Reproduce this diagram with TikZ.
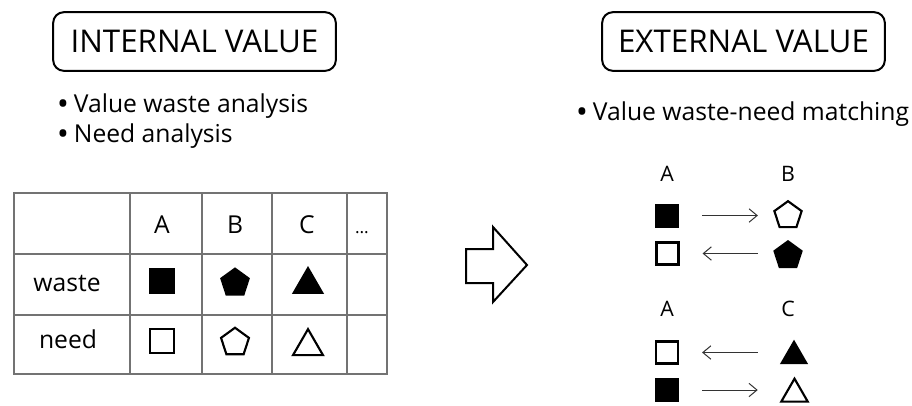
\documentclass[tikz,border=0pt]{standalone}
\usepackage{fontspec}
\setmainfont{Open Sans}
\usetikzlibrary{shapes.geometric,arrows.meta}
\tikzset{>={Straight Barb[length=6pt,width=10pt]}}
\colorlet{tcol}{black!55}
\newcommand\blt{\textbf{\textbullet}}
\tikzstyle{titlebox}=[draw,line width=1.5pt,rounded corners=8pt,minimum width=212pt,minimum height=44pt,inner sep=0pt,font=\fontsize{23.5}{27}\selectfont]
\tikzstyle{btext}=[inner sep=0pt,anchor=base west,font=\fontsize{18.5}{22}\selectfont]
\tikzstyle{ctext}=[inner sep=0pt,anchor=base,font=\fontsize{18.5}{22}\selectfont]
\tikzstyle{rtext}=[inner sep=0pt,anchor=base,font=\fontsize{16}{19}\selectfont]
\tikzstyle{tline}=[tcol,line width=0.8pt]
\tikzstyle{match}=[->,black!80,line width=0.75pt]
\tikzset{
  sqfill/.style={rectangle,fill=black,inner sep=0pt,minimum size=#1},
  sqopen/.style={rectangle,draw=black,line width=1.6pt,inner sep=0pt,minimum size=#1},
  pentfill/.style={regular polygon,regular polygon sides=5,fill=black,inner sep=0pt,minimum size=#1},
  pentopen/.style={regular polygon,regular polygon sides=5,draw=black,line width=1.6pt,inner sep=0pt,minimum size=#1},
  trifill/.style={regular polygon,regular polygon sides=3,fill=black,inner sep=0pt,minimum size=#1},
  triopen/.style={regular polygon,regular polygon sides=3,draw=black,line width=1.6pt,inner sep=0pt,minimum size=#1},
}

\begin{document}
\begin{tikzpicture}[x=0.75pt,y=-0.75pt]
  \useasboundingbox (0,0) rectangle (912,405);

  % TITLES
  \node[titlebox] (int) at (194.5,41.5) {INTERNAL VALUE};
  \node[titlebox] (ext) at (743.5,41.5) {EXTERNAL VALUE};

  % BULLETS
  \node[btext] (b1) at (58,112) {\blt\ Value waste analysis};
  \node[btext] (b2) at (58,142) {\blt\ Need analysis};
  \node[btext] (b3) at (577,120) {\blt\ Value waste-need matching};

  % TABLE
  \draw[tline] (14,193) rectangle (387,374);
  \foreach \x in {130,202,272,347}
    \draw[tline] (\x,193) -- (\x,374);
  \foreach \y in {254,315}
    \draw[tline] (14,\y) -- (387,\y);
  \foreach \t/\x in {A/162,B/235,C/307}
    \node[ctext] (h\t) at (\x,233) {\t};
  \node[inner sep=0pt,anchor=base,font=\fontsize{13}{15}\selectfont] (hdots) at (362,233) {…};
  \node[ctext] (waste) at (67,291) {waste};
  \node[ctext] (need) at (68,348) {need};
  \node[sqfill=19.5pt] (wA) at (162,281) {};
  \node[pentfill=23.5pt] (wB) at (235,283) {};
  \node[trifill=27.75pt] (wC) at (308,284.5) {};
  \node[sqopen=18pt] (nA) at (162,341) {};
  \node[pentopen=22pt] (nB) at (235,342.4) {};
  \node[triopen=26pt] (nC) at (308,346.5) {};

  % BIG ARROW
  \draw[line width=1.5pt,line join=miter]
    (466,249) -- (493,249) -- (493,227) -- (527,265) -- (493,302) -- (493,283) -- (466,283) -- cycle;

  % MATCHING A-B
  \node[rtext] (rA1) at (667,181) {A};
  \node[rtext] (rB1) at (788,181) {B};
  \node[sqfill=18pt] (mA1) at (667,215.5) {};
  \node[pentopen=21.5pt] (mB1) at (788,215.5) {};
  \node[sqopen=16.5pt] (mA2) at (667.5,253.5) {};
  \node[pentfill=23.25pt] (mB2) at (788,255.5) {};
  \draw[match,shorten <=17.25pt,shorten >=12.6pt] (mA1.east) -- (mA1.east -| mB1.west);
  \draw[match,shorten <=12.6pt,shorten >=17.25pt] (mA2.east -| mB2.west) -- (mA2.east);

  % MATCHING A-C
  \node[rtext] (rA2) at (667,316) {A};
  \node[rtext] (rC2) at (788,316) {C};
  \node[sqopen=16.5pt] (mA3) at (667,352.5) {};
  \node[trifill=24.5pt] (mC3) at (794,356) {};
  \node[sqfill=18pt] (mA4) at (667,390) {};
  \node[triopen=23pt] (mC4) at (794.5,394) {};
  \draw[match,shorten <=20pt,shorten >=17.25pt] (mA3.east -| mC3.west) -- (mA3.east);
  \draw[match,shorten <=17.25pt,shorten >=20pt] (mA4.east) -- (mA4.east -| mC4.west);
\end{tikzpicture}
\end{document}
